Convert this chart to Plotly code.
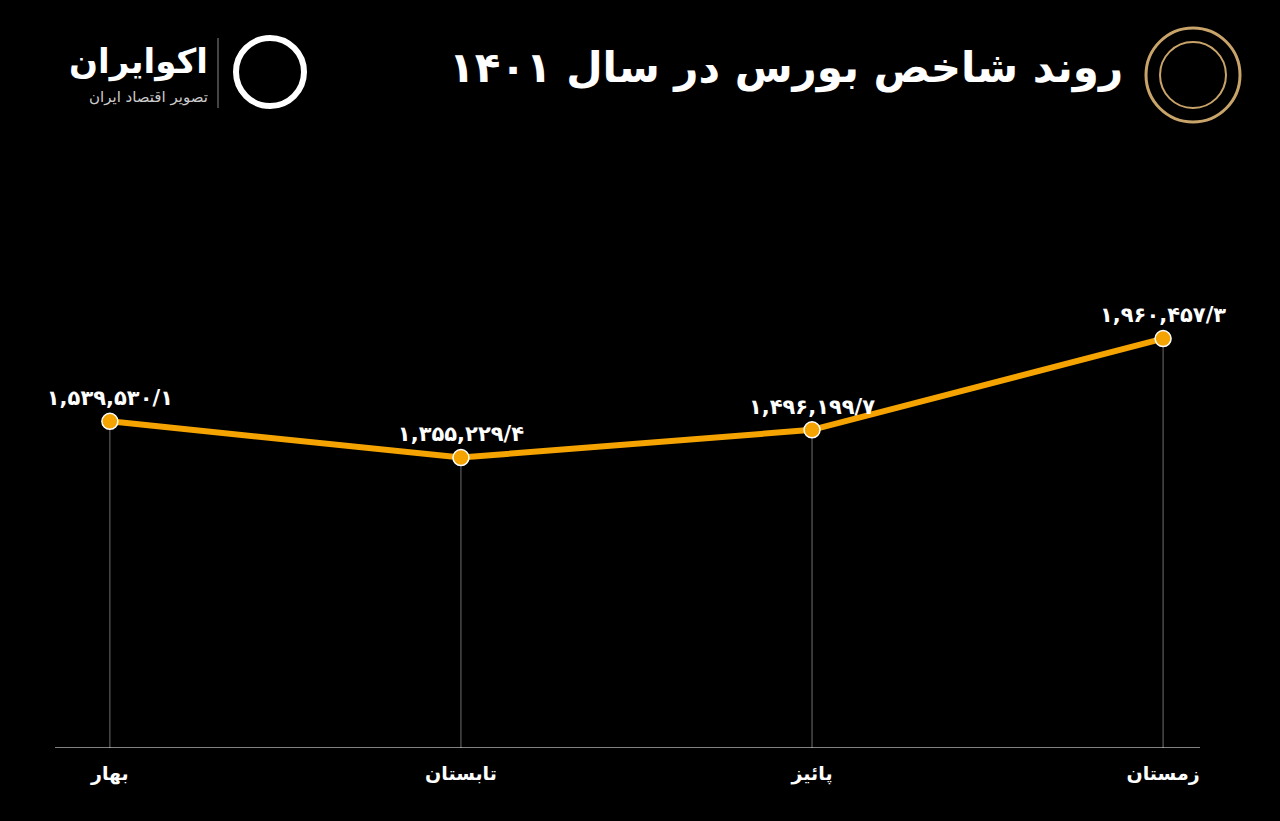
# Tehran stock index trend, 1401 - dark theme line chart
import plotly.graph_objects as go

seasons = ["بهار", "تابستان", "پائیز", "زمستان"]
index_values = [1539530.1, 1355229.4, 1496199.7, 1960457.3]

FA_DIGITS = str.maketrans("0123456789", "۰۱۲۳۴۵۶۷۸۹")

def fa_label(v):
    whole, frac = f"{v:,.1f}".split(".")
    return (whole + "/" + frac).translate(FA_DIGITS)

ORANGE = "#f5a300"
FONT = "DejaVu Sans"
TOP = 250  # top margin in px, used to place header items

def py(px):
    return 1 + (TOP - px) / 498

fig = go.Figure()

# thin drop lines from each point to the baseline
for i, v in enumerate(index_values):
    fig.add_trace(go.Scatter(
        x=[i, i], y=[-122000, v], mode="lines",
        line=dict(color="#8a8a8a", width=0.8), hoverinfo="skip", showlegend=False,
    ))

fig.add_trace(go.Scatter(
    x=list(range(len(seasons))), y=index_values,
    mode="lines+markers+text",
    line=dict(color=ORANGE, width=6),
    marker=dict(size=16, color=ORANGE, line=dict(color="#ffffff", width=1.5)),
    text=[fa_label(v) for v in index_values],
    textposition="top center",
    textfont=dict(family=FONT, size=21, color="#ffffff", weight="bold"),
    cliponaxis=False, showlegend=False,
))

fig.update_layout(
    width=1280, height=821,
    paper_bgcolor="#000000", plot_bgcolor="#000000",
    margin=dict(l=0, r=0, t=TOP, b=73),
    xaxis=dict(
        range=[-0.313, 3.333], showgrid=False, zeroline=False,
        tickmode="array", tickvals=list(range(len(seasons))), ticktext=seasons,
        tickfont=dict(family=FONT, size=19, color="#ffffff", weight="bold"),
        ticks="", ticklabelstandoff=12,
    ),
    yaxis=dict(range=[-122000, 2411000], visible=False),
    shapes=[
        dict(type="line", xref="paper", yref="y", x0=55 / 1280, x1=1200 / 1280,
             y0=-122000, y1=-122000, line=dict(color="#ffffff", width=1.2)),
        dict(type="line", xref="paper", yref="paper", x0=218 / 1280, x1=218 / 1280,
             y0=py(38), y1=py(108), line=dict(color="#888888", width=1)),
        dict(type="circle", xref="paper", yref="paper",
             x0=1146 / 1280, x1=1240 / 1280, y0=py(28), y1=py(122),
             line=dict(color="#c9a46a", width=3)),
        dict(type="circle", xref="paper", yref="paper",
             x0=1160 / 1280, x1=1226 / 1280, y0=py(42), y1=py(108),
             line=dict(color="#c9a46a", width=2)),
        dict(type="circle", xref="paper", yref="paper",
             x0=236 / 1280, x1=304 / 1280, y0=py(38), y1=py(106),
             line=dict(color="#ffffff", width=6)),
    ],
    annotations=[
        dict(text="روند شاخص بورس در سال ۱۴۰۱", xref="paper", yref="paper",
             x=1125 / 1280, y=py(68), xanchor="right", yanchor="middle",
             showarrow=False, font=dict(family=FONT, size=42, color="#ffffff", weight="bold")),
        dict(text="اکوایران", xref="paper", yref="paper",
             x=210 / 1280, y=py(62), xanchor="right", yanchor="middle",
             showarrow=False, font=dict(family=FONT, size=34, color="#ffffff", weight="bold")),
        dict(text="تصویر اقتصاد ایران", xref="paper", yref="paper",
             x=210 / 1280, y=py(97), xanchor="right", yanchor="middle",
             showarrow=False, font=dict(family=FONT, size=15, color="#cccccc")),
    ],
)

fig.write_html(
    "out.html",
    config={"displayModeBar": False},
    post_script="document.body.style.margin='0';document.body.style.background='#000';",
)
